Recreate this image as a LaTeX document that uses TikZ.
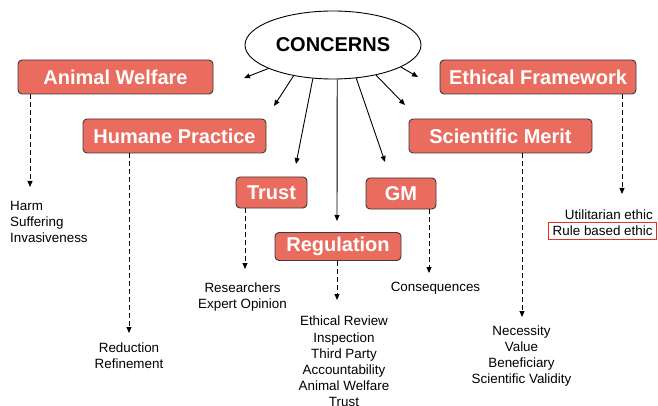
\documentclass[tikz,border=0pt]{standalone}
\usepackage{fontspec}
\setmainfont{Liberation Sans}
\usetikzlibrary{shapes.geometric}
\usetikzlibrary{arrows.meta}

\definecolor{boxred}{HTML}{E96C5E}
\definecolor{boxedge}{HTML}{3A3A3A}
\definecolor{markred}{HTML}{E8321F}

\begin{document}
\begin{tikzpicture}[x=1pt,y=-1pt,
        concern/.style={draw=boxedge,fill=boxred,line width=0.9pt,rounded corners=4pt,
            text=white,font=\fontsize{20}{24}\bfseries,inner sep=0pt,minimum height=34pt},
        detail/.style={font=\fontsize{13.4}{16.2}\selectfont,align=center,inner sep=0pt},
        solidarrow/.style={line width=0.9pt,-{Triangle[length=6pt,width=5pt]}},
        dasharrow/.style={line width=0.9pt,dash pattern=on 5pt off 3pt,-{Triangle[length=6pt,width=5pt]}}]
        % \draw [help lines] (0,0) grid (658,406);
        \useasboundingbox (0,0) rectangle (658,406);

        \path node (c) [ellipse,draw,line width=0.9pt,minimum width=176pt,minimum height=68pt,
            inner sep=0pt,font=\fontsize{20}{24}\bfseries] at (333,45) {CONCERNS};

        \path node (aw) [concern,minimum width=195pt] at (115.5,77) {Animal Welfare};
        \path node (hp) [concern,minimum width=183pt] at (174.5,136) {Humane Practice};
        \path node (tr) [concern,minimum width=71pt,minimum height=31pt] at (271.5,192.5) {Trust};
        \path node (rg) [concern,minimum width=126pt,minimum height=28pt] at (338,246.5) {Regulation};
        \path node (gm) [concern,minimum width=70pt,minimum height=31pt] at (401,193.5) {GM};
        \path node (sm) [concern,minimum width=183pt] at (500.5,136) {Scientific Merit};
        \path node (ef) [concern,minimum width=196pt] at (538,77) {Ethical Framework};

        \path node (awtxt) [detail,align=left,anchor=west] at (10,222) {Harm\\Suffering\\Invasiveness};
        \path node (hptxt) [detail] at (129,356) {Reduction\\Refinement};
        \path node (trtxt) [detail] at (242.5,297) {Researchers\\Expert Opinion};
        \path node (rgtxt) [detail,anchor=north] at (344,316) {Ethical Review\\Inspection\\Third Party\\Accountability\\Animal Welfare\\Trust};
        \path node (gmtxt) [detail] at (435.5,288) {Consequences};
        \path node (smtxt) [detail] at (521.5,356) {Necessity\\Value\\Beneficiary\\Scientific Validity};
        \path node (efu) [detail,anchor=east] at (653,215) {Utilitarian ethic};
        \path node (efr) [detail,anchor=east,draw=markred,line width=0.9pt,inner xsep=4pt,
            minimum height=17pt] at (657,230.5) {Rule based ethic};

        % tips of the arrows out of the ellipse
        \coordinate (awtip) at (244,78);
        \coordinate (hptip) at (274,106);
        \coordinate (trtip) at (296,164);
        \coordinate (rgtip) at (337,221);
        \coordinate (gmtip) at (385,162);
        \coordinate (smtip) at (405,105);
        \coordinate (eftip) at (418,77);

        \draw[solidarrow] (c.200) -- (awtip);
        \draw[solidarrow] (c.218) -- (hptip);
        \draw[solidarrow] (c.239) -- (trtip);
        \draw[solidarrow] (c.277) -- (rgtip);
        \draw[solidarrow] (c.305) -- (gmtip);
        \draw[solidarrow] (c.325) -- (smtip);
        \draw[solidarrow] (c.342) -- (eftip);

        % ends of the dashed arrows
        \coordinate (awend) at (30,187);
        \coordinate (hpend) at (129,333);
        \coordinate (trend) at (245,269);
        \coordinate (rgend) at (337,300);
        \coordinate (gmend) at (429,273);
        \coordinate (smend) at (522,317);
        \coordinate (efend) at (622,194);

        \draw[dasharrow] (aw.south -| awend) -- (awend);
        \draw[dasharrow] (hp.south -| hpend) -- (hpend);
        \draw[dasharrow] (tr.south -| trend) -- (trend);
        \draw[dasharrow] (rg.south -| rgend) -- (rgend);
        \draw[dasharrow] (gm.south -| gmend) -- (gmend);
        \draw[dasharrow] (sm.south -| smend) -- (smend);
        \draw[dasharrow] (ef.south -| efend) -- (efend);
\end{tikzpicture}
\end{document}
